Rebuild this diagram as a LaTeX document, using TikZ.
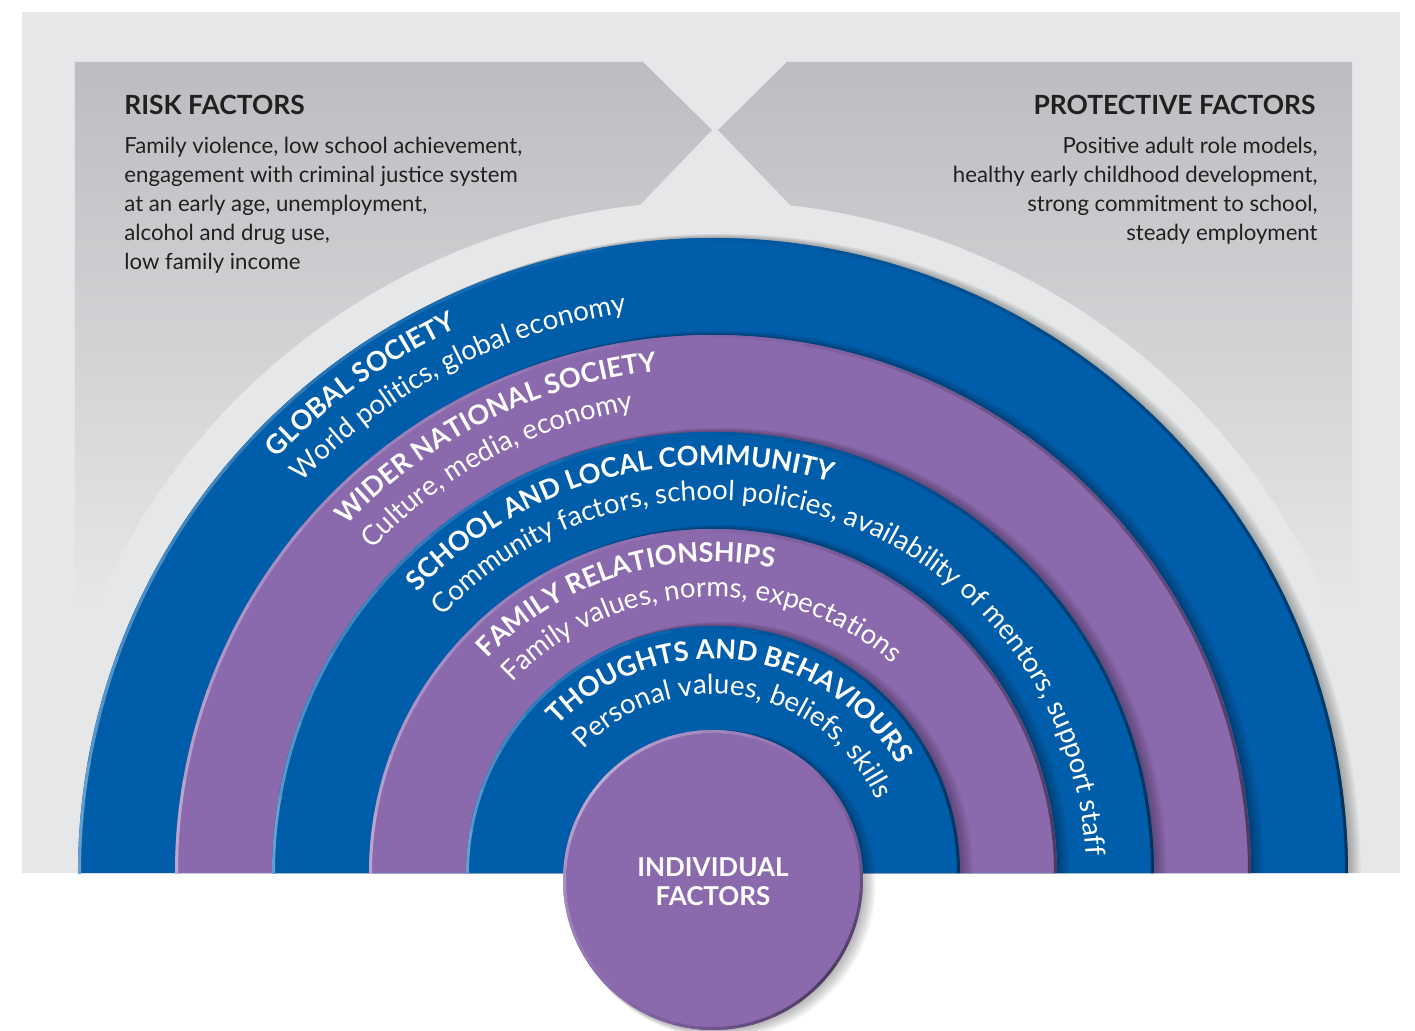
\documentclass[tikz,border=0pt]{standalone}
\usepackage{fontspec}
\setmainfont{Lato}
\usetikzlibrary{decorations.text}

\definecolor{ringblue}{HTML}{005DAA}
\definecolor{ringpurple}{HTML}{8A69AD}
\definecolor{bglight}{HTML}{E6E7E8}
\definecolor{panelgray}{HTML}{BCBDC0}
\definecolor{inkdark}{HTML}{231F20}

\newcommand\ringtitlefont{\fontsize{13.5}{13.5}\selectfont\bfseries}
\newcommand\ringsubfont{\fontsize{13.8}{13.8}\selectfont}

\tikzset{
  headtext/.style={font=\fontsize{13.2}{15}\selectfont\bfseries, text=inkdark, inner sep=0pt},
  bodytext/.style={font=\fontsize{11.1}{14.5}\selectfont, text=inkdark, inner sep=0pt},
  ringtitle/.style={decorate, decoration={text along path, text align=left, text color=white, text={|\ringtitlefont|#1}}},
  ringsub/.style={decorate, decoration={text along path, text align=left, text color=white, text={|\ringsubfont|#1}}},
}

\begin{document}
\begin{tikzpicture}[x=0.5pt, y=0.5pt]
\useasboundingbox (-713,-157) rectangle (702,873);

% Background and panels
\fill[bglight] (-691,0) rectangle (687,861);
\shade[top color=panelgray, bottom color=bglight]
  (-638,811) -- (-70,811) -- (-1,743) -- (-73,668) -- (-73,260) -- (-638,260) -- cycle;
\shade[top color=panelgray, bottom color=bglight]
  (5,743) -- (74,811) -- (639,811) -- (639,260) -- (77,260) -- (77,668) -- cycle;
\fill[bglight] (672,0) arc[start angle=0, end angle=180, radius=672] -- cycle;

% Rings
\begin{scope}
\clip (-691,0) rectangle (687,861);
\foreach \r/\c in {635/ringblue, 538/ringpurple, 441/ringblue, 344/ringpurple, 247/ringblue} {
  \foreach \s in {2,4,...,14}
    \fill[black, opacity=0.045] (\s*0.6+\r+\s*0.3,0) arc[start angle=0, end angle=180, radius=\r+\s*0.3] -- cycle;
  \fill[\c] (\r,0) arc[start angle=0, end angle=180, radius=\r] -- cycle;
  \foreach \a in {0,10,...,80} {
    \pgfmathtruncatemacro\k{55+\a/2}
    \draw[\c!\k!black, line width=1.5pt] (\a:\r-1.5) arc[start angle=\a, end angle=\a+10.5, radius=\r-1.5];
  }
  \foreach \a in {90,100,...,170} {
    \pgfmathtruncatemacro\k{100-(\a-90)/2}
    \draw[\c!\k!white, line width=1.5pt] (\a:\r-1.5) arc[start angle=\a, end angle=\a+10.5, radius=\r-1.5];
  }
}
\end{scope}

% Centre circle
\foreach \s in {2,4,...,14}
  \fill[black, opacity=0.045] (\s*0.6,-7-\s*0.3) circle[radius=150+\s*0.3];
\fill[ringpurple] (0,-7) circle[radius=150];
\begin{scope}[shift={(0,-7)}]
\foreach \a in {-135,-125,...,35} {
  \pgfmathtruncatemacro\k{55+abs(\a+45)/2}
  \draw[ringpurple!\k!black, line width=1.5pt] (\a:148.5) arc[start angle=\a, end angle=\a+10.5, radius=148.5];
}
\foreach \a in {45,55,...,215} {
  \pgfmathtruncatemacro\k{55+abs(\a-135)/2}
  \draw[ringpurple!\k!white, line width=1.5pt] (\a:148.5) arc[start angle=\a, end angle=\a+10.5, radius=148.5];
}
\end{scope}
\node[font=\fontsize{13}{14.5}\selectfont\bfseries, text=white, align=center] (individual) at (0,-9) {INDIVIDUAL\\FACTORS};

% Ring labels
\path[ringtitle={GLOBAL SOCIETY}] (136.5:602) arc[start angle=136.5, end angle=0, radius=602];
\path[ringsub={World politics, global economy}] (136.5:567) arc[start angle=136.5, end angle=0, radius=567];
\path[ringtitle={WIDER NATIONAL SOCIETY}] (136.5:505) arc[start angle=136.5, end angle=0, radius=505];
\path[ringsub={Culture, media, economy}] (136.5:470) arc[start angle=136.5, end angle=0, radius=470];
\path[ringtitle={SCHOOL AND LOCAL COMMUNITY}] (136.5:408) arc[start angle=136.5, end angle=0, radius=408];
\path[ringsub={Community factors, school policies, availability of mentors, support staff}] (136.5:373) arc[start angle=136.5, end angle=0, radius=373];
\path[ringtitle={FAMILY RELATIONSHIPS}] (136.5:311) arc[start angle=136.5, end angle=0, radius=311];
\path[ringsub={Family values, norms, expectations}] (136.5:276) arc[start angle=136.5, end angle=0, radius=276];
\path[ringtitle={THOUGHTS AND BEHAVIOURS}] (136.5:214) arc[start angle=136.5, end angle=0, radius=214];
\path[ringsub={Personal values, beliefs, skills}] (136.5:179) arc[start angle=136.5, end angle=0, radius=179];

% Factor lists
\node[headtext, anchor=base west] (riskhead) at (-589,758) {RISK FACTORS};
\node[bodytext, anchor=north west, align=left] (risklist) at (-589,736)
  {Family violence, low school achievement,\\ engagement with criminal justice system\\ at an early age, unemployment,\\ alcohol and drug use,\\ low family income};
\node[headtext, anchor=base east] (protecthead) at (603,758) {PROTECTIVE FACTORS};
\node[bodytext, anchor=north east, align=right] (protectlist) at (605,736)
  {Positive adult role models,\\ healthy early childhood development,\\ strong commitment to school,\\ steady employment};
\end{tikzpicture}
\end{document}
